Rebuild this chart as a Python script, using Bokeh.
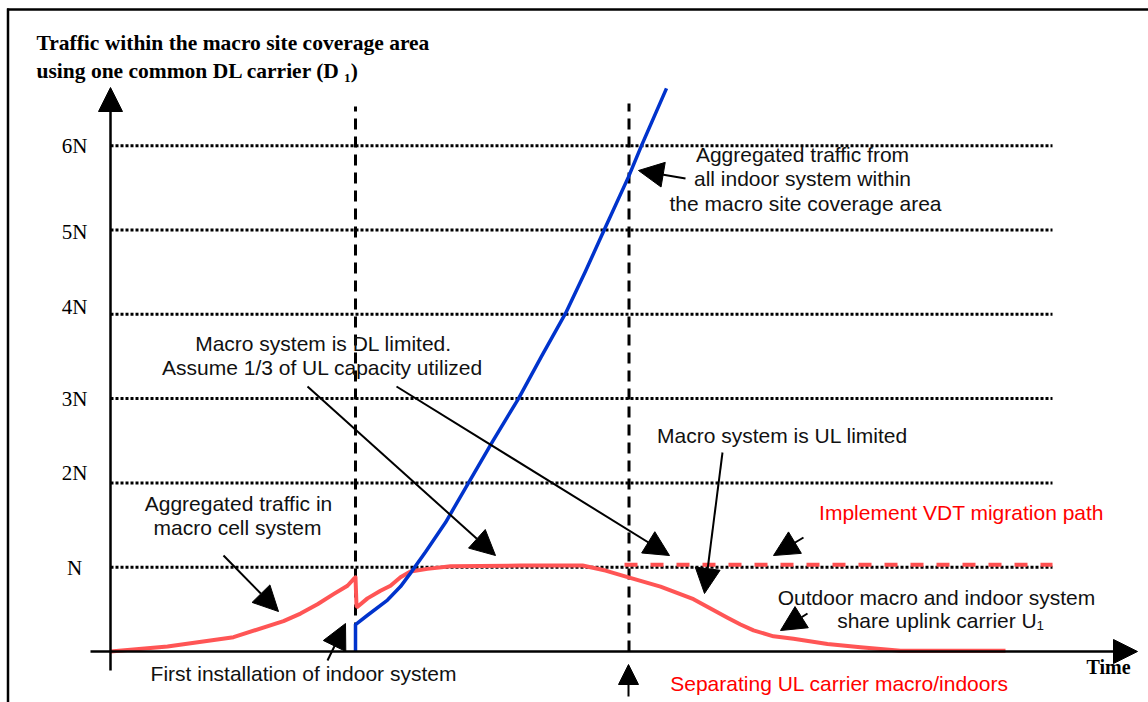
from bokeh.plotting import figure
from bokeh.models import Range1d, Arrow, NormalHead
from bokeh.core.properties import value
from bokeh.embed import file_html
from bokeh.resources import INLINE

# ---------------- data ----------------
# time axis: arbitrary time units; traffic in multiples of N
tick_values = [1, 2, 3, 4, 5, 6]
tick_labels = ["N", "2N", "3N", "4N", "5N", "6N"]

macro_t = [0.0, 5.7, 12.3, 17.3, 19.0, 20.7, 22.3, 23.7, 24.4, 24.5,
           24.6, 24.7, 25.7, 27.0, 28.0, 29.0, 30.0, 31.7, 34.0, 41.0,
           47.2, 49.5, 51.8, 55.0, 58.3, 60.0, 61.7, 63.0, 64.3, 66.3,
           68.3, 71.7, 75.0, 79.0, 89.5]
macro_y = [0.0, 0.06, 0.17, 0.36, 0.45, 0.56, 0.68, 0.78, 0.87, 0.88,
           0.54, 0.53, 0.63, 0.72, 0.78, 0.88, 0.95, 0.98, 1.01, 1.02,
           1.02, 0.96, 0.88, 0.77, 0.62, 0.51, 0.40, 0.32, 0.25, 0.18,
           0.15, 0.09, 0.05, 0.01, 0.01]

indoor_t = [24.5, 24.5, 25.7, 27.7, 29.0, 30.0, 31.5, 33.5, 35.7, 38.2,
            40.8, 43.1, 45.5, 47.5, 49.4, 51.8, 53.1, 55.6]
indoor_y = [0.0, 0.32, 0.43, 0.61, 0.77, 0.93, 1.18, 1.53, 1.98, 2.49,
            3.00, 3.50, 4.01, 4.51, 5.01, 5.63, 6.00, 6.68]

vdt_t = [51.4, 94.2]
vdt_y = [1.03, 1.03]

event_t = [24.5, 51.85]          # first indoor installation, UL carrier split
grid_t_end = 94.2

# ---------------- layout helpers (page pixel -> data) ----------------
def X(px):
    return (px - 110) / 10.0

def Y(py):
    return (651 - py) / 84.3

W, H = 1148, 702
p = figure(width=W, height=H,
           x_range=Range1d(X(0), X(W)), y_range=Range1d(Y(H), Y(0)),
           output_backend="svg", toolbar_location=None, min_border=0,
           x_axis_type=None, y_axis_type=None, outline_line_color=None,
           background_fill_color="white", border_fill_color="white")
p.grid.visible = False

# frame border (left & top)
p.segment(x0=[X(7.5), X(6.5)], y0=[Y(8), Y(9)], x1=[X(7.5), X(W)], y1=[Y(H), Y(9)],
          line_color="black", line_width=2.5)

# dotted horizontal reference lines
p.segment(x0=[0] * len(tick_values), y0=tick_values,
          x1=[grid_t_end] * len(tick_values), y1=tick_values,
          line_color="black", line_width=3, line_dash="3 2")

# vertical dashed event lines
p.segment(x0=event_t, y0=[0, 0], x1=event_t, y1=[Y(106), Y(103)],
          line_color="black", line_width=3, line_dash="11 7")

# VDT migration path
p.line(vdt_t, vdt_y, line_color="#ff5050", line_width=4, line_dash="13 13")

# curves
p.line(macro_t, macro_y, line_color="#ff5555", line_width=4, line_join="round")
p.line(indoor_t, indoor_y, line_color="#0033cc", line_width=3.5, line_join="round")

# axes drawn as arrows
def arrow(x0, y0, x1, y1, size=25, lw=2):
    p.add_layout(Arrow(end=NormalHead(size=size, fill_color="black", line_color="black",
                                      line_width=1),
                       x_start=X(x0), y_start=Y(y0), x_end=X(x1), y_end=Y(y1),
                       line_color="black", line_width=lw))

arrow(110, 670, 110, 87, size=24, lw=2.5)
arrow(90, 651, 1137, 651, size=24, lw=2.5)

# annotation arrows
arrow(307, 386, 495, 555)
arrow(396, 386, 669, 555)
arrow(722, 452, 704, 593)
arrow(803, 537, 773, 555)
arrow(685, 178, 638, 170)
arrow(223, 555, 278, 611)
arrow(327, 660, 345, 623)
arrow(807, 613, 780, 630)
arrow(628, 696, 628, 664, size=20)

# tick labels
label_dy = {"N": 1, "2N": -10, "3N": 0, "4N": -7, "5N": 2, "6N": 0}
p.text(x=[X(74)] * len(tick_values),
       y=[v - label_dy[l] / 84.3 for v, l in zip(tick_values, tick_labels)],
       text=tick_labels, text_font=value("Liberation Serif"), text_font_size="21px",
       text_color="black", text_align="center", text_baseline="middle")

def texts(items, font, size, color="#111111", style="normal", align="center"):
    p.text(x=[X(a) for a, b, c in items], y=[Y(b) for a, b, c in items],
           text=[c for a, b, c in items], text_font=value(font), text_font_size=size,
           text_font_style=style, text_color=color, text_align=align,
           text_baseline="middle")

texts([(36, 42, "Traffic within the macro site coverage area"),
       (36, 70, "using one common DL carrier (D \u2081)")],
      "Liberation Serif", "21.5px", color="black", style="bold", align="left")
texts([(1108, 666, "Time")], "Liberation Serif", "20px", color="black", style="bold")

texts([(802, 154, "Aggregated traffic from"),
       (802, 178, "all indoor system within"),
       (805, 203, "the macro site coverage area"),
       (323, 343, "Macro system is DL limited."),
       (322, 367, "Assume 1/3 of UL capacity utilized"),
       (782, 435, "Macro system is UL limited"),
       (238, 503, "Aggregated traffic in"),
       (237, 527, "macro cell system"),
       (303, 673, "First installation of indoor system"),
       (936, 597, "Outdoor macro and indoor system"),
       (940, 620, "share uplink carrier U\u2081")],
      "Liberation Sans", "21px")
texts([(961, 512, "Implement VDT migration path"),
       (839, 683, "Separating UL carrier macro/indoors")],
      "Liberation Sans", "21px", color="#ff0000")

open("out.html", "w").write(file_html(p, INLINE))
